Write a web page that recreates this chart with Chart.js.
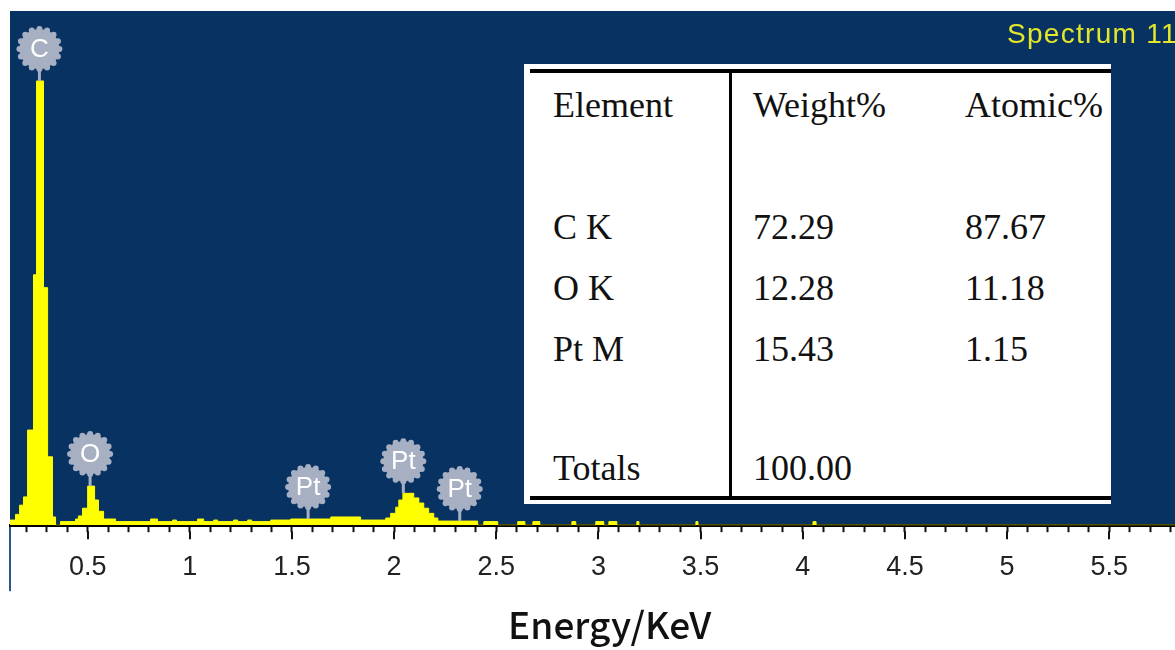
<!DOCTYPE html>
<html>
<head>
<meta charset="utf-8">
<script src="https://cdn.jsdelivr.net/npm/chart.js@4.4.1/dist/chart.umd.min.js"></script>
<style>
  html, body { margin: 0; padding: 0; background: #fff; overflow: hidden; }
  #wrap { position: relative; width: 1210px; height: 650px; }
  #spectrumName {
    position: absolute; left: 1007px; top: 18px;
    font: 28px "Liberation Sans", Arial, sans-serif;
    color: #e3e62a; letter-spacing: 1.3px; white-space: nowrap;
  }
  #resultTable {
    position: absolute; left: 524px; top: 64px; width: 587px; height: 440px;
    background: #fff; color: #111;
    font: 36px "Liberation Serif", "Times New Roman", serif;
  }
  .rule { position: absolute; background: #000; }
  .cell { position: absolute; line-height: 1; white-space: nowrap; transform: translateY(-50%); }
</style>
</head>
<body>
<div id="wrap">
  <canvas id="spectrum" width="1210" height="650"></canvas>
  <div id="spectrumName">Spectrum 11</div>
  <div id="resultTable"></div>
</div>
<script>
// spectrum (step histogram: value holds until next energy)
const energyKeV = [0.12, 0.147, 0.167, 0.186, 0.206, 0.235, 0.250, 0.284, 0.304, 0.328,
  0.343, 0.367, 0.441, 0.455, 0.475, 0.500, 0.534, 0.553, 0.578, 0.637,
  0.808, 0.842, 0.916, 0.935, 1.038, 1.068, 1.117, 1.136, 1.214, 1.234,
  1.283, 1.303, 1.396, 1.494, 1.690, 1.836, 1.959, 1.983, 2.008, 2.023,
  2.043, 2.096, 2.121, 2.145, 2.169, 2.194, 2.214, 2.409, 2.439, 2.507,
  2.605, 2.640, 2.679, 2.713, 2.870, 2.889, 2.987, 3.026, 3.051, 3.090,
  3.188, 3.198, 3.477, 3.487, 4.050, 4.065, 5.99];
const counts = [10, 21, 39, 55, 185, 487, 864, 462, 133, 16,
  0, 7, 12, 18, 33, 76, 49, 27, 12, 7,
  12, 7, 10, 7, 12, 7, 10, 7, 10, 7,
  10, 7, 10, 12, 16, 10, 14, 23, 35, 49,
  62, 53, 43, 33, 23, 14, 8, 0, 7, 0,
  7, 0, 7, 0, 7, 0, 7, 0, 7, 0,
  7, 0, 7, 0, 7, 0, 0];

// peak markers
const peakLabels = ["C", "O", "Pt", "Pt", "Pt"];
const peakKeV = [0.264, 0.512, 1.579, 2.045, 2.321];

// quantification table
const tableHeader = ["Element", "Weight%", "Atomic%"];
const tableElements = ["C K", "O K", "Pt M"];
const weightPct = ["72.29", "12.28", "15.43"];
const atomicPct = ["87.67", "11.18", "1.15"];
const totalsLabel = "Totals";
const weightTotal = "100.00";

// Build table
const table = document.getElementById("resultTable");
const colX = [29, 229, 441];
const rowY = [41, 163, 224, 285, 404];

function addCell(text, x, y){
  const c = document.createElement("div");
  c.className = "cell";
  c.style.left = x + "px";
  c.style.top = y + "px";
  c.textContent = text;
  table.appendChild(c);
}
function addRule(l, t, w, h){
  const r = document.createElement("div");
  r.className = "rule";
  r.style.cssText = `left:${l}px;top:${t}px;width:${w}px;height:${h}px`;
  table.appendChild(r);
}
addRule(6, 5, 581, 4);
addRule(6, 432, 581, 4);
addRule(205, 9, 3, 423);
tableHeader.forEach((h, i) => addCell(h, colX[i], rowY[0]));
tableElements.forEach((el, i) => {
  addCell(el, colX[0], rowY[i + 1]);
  addCell(weightPct[i], colX[1], rowY[i + 1]);
  addCell(atomicPct[i], colX[2], rowY[i + 1]);
});
addCell(totalsLabel, colX[0], rowY[4]);
addCell(weightTotal, colX[1], rowY[4]);

function countAt(k){
  let c = 0;
  energyKeV.forEach((e, i) => { if(e <= k) c = counts[i]; });
  return c;
}

// Blue plot background + left frame line under the axis
const spectrumBackground = {
  id: "spectrumBackground",
  beforeDraw(chart){
    const {ctx, chartArea: a} = chart;
    ctx.save();
    ctx.fillStyle = "#083262";
    ctx.fillRect(a.left, a.top, a.right - a.left, a.bottom - a.top);
    ctx.fillStyle = "#2c5590";
    ctx.fillRect(a.left - 1, a.bottom, 2, 66);
    ctx.restore();
  }
};

// Gray badges over the peaks
const peakBadges = {
  id: "peakBadges",
  afterDatasetsDraw(chart){
    const {ctx} = chart;
    const xs = chart.scales.x, ys = chart.scales.y;
    ctx.save();
    peakKeV.forEach((k, i) => {
      const cx = xs.getPixelForValue(k);
      const top = ys.getPixelForValue(countAt(k));
      const cy = top - 32;
      ctx.fillStyle = "#a7b0c2";
      ctx.fillRect(cx - 1.5, cy + 19, 3, top - cy - 19);
      ctx.beginPath();
      ctx.arc(cx, cy, 20, 0, Math.PI * 2);
      ctx.fill();
      for(let j = 0; j < 16; j++){
        const a = j * Math.PI / 8;
        ctx.beginPath();
        ctx.arc(cx + 20 * Math.cos(a), cy + 20 * Math.sin(a), 3, 0, Math.PI * 2);
        ctx.fill();
      }
      ctx.fillStyle = "#fff";
      ctx.font = "26px 'Liberation Sans', Arial, sans-serif";
      ctx.textAlign = "center";
      ctx.textBaseline = "middle";
      ctx.fillText(peakLabels[i], cx, cy + 1);
    });
    ctx.restore();
  }
};

// Longer tick marks at every 0.5 keV
const majorTicks = {
  id: "majorTicks",
  afterDraw(chart){
    const {ctx} = chart;
    const xs = chart.scales.x;
    const bottom = chart.chartArea.bottom;
    ctx.save();
    ctx.strokeStyle = "#111";
    ctx.lineWidth = 2;
    xs.ticks.forEach(t => {
      if(Math.round(t.value * 10) % 5 !== 0) return;
      const px = Math.round(xs.getPixelForValue(t.value));
      ctx.beginPath();
      ctx.moveTo(px, bottom + 6);
      ctx.lineTo(px, bottom + 14);
      ctx.stroke();
    });
    ctx.restore();
  }
};

const chart = new Chart(document.getElementById("spectrum"), {
  type: "line",
  data: {
    datasets: [{
      data: energyKeV.map((e, i) => ({x: e, y: counts[i]})),
      stepped: true,
      fill: "origin",
      backgroundColor: "#ffff00",
      borderColor: "#ffff00",
      borderWidth: 1,
      pointRadius: 0
    }]
  },
  options: {
    responsive: false,
    animation: false,
    layout: {padding: {left: 10, top: 11, right: 0, bottom: 0}},
    plugins: {legend: {display: false}, tooltip: {enabled: false}},
    scales: {
      x: {
        type: "linear",
        min: 0.12,
        max: 5.99,
        z: 1,
        border: {display: true, color: "#000", width: 3},
        grid: {drawOnChartArea: false, drawTicks: true, tickLength: 7, tickWidth: 2, tickColor: "#111"},
        ticks: {
          stepSize: 0.1,
          autoSkip: false,
          maxRotation: 0,
          includeBounds: false,
          padding: 19,
          color: "#222",
          font: {family: "'Liberation Sans', Arial, sans-serif", size: 27},
          callback: v => {
            const t = Math.round(v * 10);
            return t % 5 === 0 ? String(t / 10) : "";
          }
        },
        title: {
          display: true,
          text: "Energy/KeV",
          color: "#111",
          font: {family: "'Noto Sans CJK SC', 'Noto Sans', sans-serif", size: 37, weight: "500"},
          padding: {top: 0, bottom: 3}
        }
      },
      y: {display: false, min: 0, max: 1000}
    }
  },
  plugins: [spectrumBackground, peakBadges, majorTicks]
});
</script>
</body>
</html>
